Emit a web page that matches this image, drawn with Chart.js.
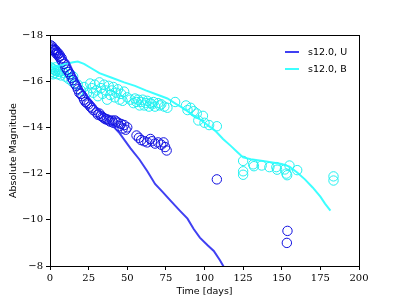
<!DOCTYPE html>
<html>
<head>
<meta charset="utf-8">
<script src="https://cdn.jsdelivr.net/npm/chart.js@4.4.7/dist/chart.umd.min.js"></script>
<style>
  html, body { margin: 0; padding: 0; background: #fff; }
  #wrap { position: relative; width: 399px; height: 299px; }
  .legend { position: absolute; left: 285px; top: 43px; font: 9.5px "DejaVu Sans", sans-serif; color: #000; }
  .legend div { height: 17px; display: flex; align-items: center; }
  .legend span.swatch { display: inline-block; width: 14px; height: 2px; margin-right: 9px; }
</style>
</head>
<body>
<div id="wrap">
  <canvas id="chart" width="399" height="299"></canvas>
  <div class="legend" id="legend"></div>
</div>
<script>
// model light curves (days, magnitude)
const modelU = [
  [0, -17.5], [4, -17.35], [8, -17.15], [12, -16.84], [16, -16.25], [20, -15.7],
  [26, -15.2], [32, -14.7], [38, -14.25], [45, -13.75], [52, -13.1], [58, -12.6],
  [63, -12.1], [68, -11.55], [73, -11.2], [78, -10.83], [84, -10.4], [89, -10.05],
  [93, -9.6], [97, -9.23], [102, -8.9], [106, -8.65], [110, -8.25], [113, -7.9]
];
const modelB = [
  [0, -16.6], [5, -16.65], [10, -16.75], [15, -16.82], [18, -16.85], [22, -16.75],
  [27, -16.55], [32, -16.35], [40, -16.15], [48, -15.95], [55, -15.8], [62, -15.6],
  [70, -15.4], [76, -15.25], [82, -15.0], [87, -14.8], [92, -14.55], [97, -14.35],
  [102, -14.1], [107, -13.85], [112, -13.5], [117, -13.2], [121, -12.95], [125, -12.7],
  [130, -12.62], [140, -12.52], [150, -12.42], [155, -12.3], [160, -12.05], [165, -11.75],
  [170, -11.4], [175, -11.0], [178, -10.7], [181.5, -10.4]
];

// observed photometry
const obsU = [
  [0.5, -17.55], [1, -17.45], [1.5, -17.5], [2, -17.35], [2.5, -17.4], [3, -17.3],
  [3.5, -17.35], [4, -17.2], [4.5, -17.25], [5, -17.15], [5.5, -17.2], [6, -17.05],
  [6.5, -17.1], [7, -16.95], [7.5, -17.0], [8, -16.85], [9, -16.75], [10, -16.6],
  [11, -16.5], [12, -16.4], [13, -16.3], [14, -16.15], [15, -16.05], [16, -15.9],
  [17, -15.8], [18, -15.65], [19, -15.5], [20, -15.45], [21, -15.35], [22, -15.2],
  [23, -15.1], [24, -15.05], [25, -15.0], [26, -14.9], [27, -14.85], [28, -14.75],
  [30, -14.65], [31, -14.55], [32, -14.6], [33, -14.5], [34, -14.45], [35, -14.4],
  [36, -14.35], [37, -14.35], [38, -14.3], [39, -14.25], [40, -14.3], [41, -14.2],
  [42, -14.3], [43, -14.25], [44, -14.2], [45, -14.05], [46, -14.15], [47, -13.95],
  [48, -14.1], [49, -13.9], [50, -14.0],
  [56, -13.65], [57.5, -13.55], [59, -13.45], [61, -13.4], [63, -13.35], [65, -13.5],
  [66, -13.4], [68, -13.3], [70, -13.35], [72, -13.25], [73.5, -13.35], [74.5, -13.15],
  [75.5, -13.0],
  [108, -11.75], [153.7, -9.52], [153.3, -9.0]
];
const obsB = [
  [0.5, -16.6], [1, -16.4], [1.5, -16.55], [2, -16.3], [2.5, -16.5], [3, -16.35],
  [3.5, -16.6], [4, -16.45], [5, -16.3], [5.5, -16.5], [6, -16.4], [7, -16.25],
  [8, -16.45], [9, -16.35], [10, -16.2], [11, -16.4], [12, -16.1], [13, -16.3],
  [14, -16.0], [15, -16.2], [16, -15.9], [18, -15.85], [20, -15.6], [22, -15.75],
  [24, -15.5], [26, -15.9], [27, -15.7], [28, -15.5], [29, -15.85], [30, -15.6],
  [31, -15.35], [32, -15.95], [33, -15.7], [34, -15.45], [35, -15.85], [36, -15.6],
  [37, -15.2], [38, -15.8], [39, -15.4], [40, -15.6], [41, -15.75], [42, -15.3],
  [43, -15.5], [44, -15.65], [45, -15.2], [46, -15.45], [47, -15.15], [48, -15.55],
  [50, -15.3], [52, -15.2], [54, -15.05], [55, -15.25], [56, -15.1], [57, -15.2],
  [58, -14.95], [59, -15.1], [60, -15.2], [61, -14.95], [62, -15.05], [63, -15.15],
  [64, -14.9], [65, -15.05], [66, -15.0], [67, -15.1], [68, -14.9], [70, -15.05],
  [71, -14.95], [72, -15.0], [74, -14.9], [76, -14.85], [81, -15.1], [88, -14.95],
  [89, -14.75], [91, -14.85], [93, -14.7], [95, -14.6], [96, -14.3], [99, -14.5],
  [100, -14.2], [103, -14.1], [108, -14.05],
  [125, -12.55], [125, -12.1], [125, -11.95], [131.5, -12.4], [132, -12.32], [137, -12.35],
  [142, -12.28], [146.5, -12.28], [147, -12.17], [152, -12.18], [153, -12.0], [153.5, -11.93],
  [155, -12.35], [160, -12.15], [183.5, -11.88], [183.5, -11.7]
];

const xTicks = [0, 25, 50, 75, 100, 125, 150, 175, 200];
const yTicks = [-18, -16, -14, -12, -10, -8];

const blueLine = 'rgba(30, 30, 240, 0.85)';
const cyanLine = 'rgba(40, 255, 255, 0.9)';
const blueDot = '#1010e0';
const cyanDot = '#20f0f0';

const toXY = arr => arr.map(([x, y]) => ({ x, y }));
const minus = v => (v < 0 ? '\u2212' + Math.abs(v) : String(v));

const framePlugin = {
  id: 'frame',
  afterDraw(chart) {
    const { ctx, chartArea: a } = chart;
    ctx.save();
    ctx.strokeStyle = '#000';
    ctx.lineWidth = 1;
    ctx.strokeRect(a.left + 0.5, a.top + 0.5, a.right - a.left, a.bottom - a.top);
    ctx.restore();
  }
};

const lineDatasets = [
  { label: 's12.0, U', data: toXY(modelU), borderColor: blueLine, type: 'line' },
  { label: 's12.0, B', data: toXY(modelB), borderColor: cyanLine, type: 'line' }
];

const chart = new Chart(document.getElementById('chart').getContext('2d'), {
  type: 'scatter',
  data: {
    datasets: [
      ...lineDatasets.map(d => ({
        ...d, borderWidth: 2, pointRadius: 0, fill: false, tension: 0, showLine: true
      })),
      { label: 'obs U', data: toXY(obsU), borderColor: blueDot, backgroundColor: 'transparent', pointRadius: 4.7, borderWidth: 1 },
      { label: 'obs B', data: toXY(obsB), borderColor: cyanDot, backgroundColor: 'transparent', pointRadius: 4.7, borderWidth: 1 }
    ]
  },
  options: {
    responsive: false,
    animation: false,
    clip: true,
    layout: { padding: { left: 0, right: 40, top: 35, bottom: 0 } },
    plugins: { legend: { display: false }, tooltip: { enabled: false } },
    scales: {
      x: {
        type: 'linear', min: 0, max: 200,
        afterBuildTicks: s => { s.ticks = xTicks.map(v => ({ value: v })); },
        afterFit: s => { s.height = 33; },
        grid: { drawOnChartArea: false, drawTicks: true, tickLength: 4, color: '#000' },
        border: { display: true, color: '#000', width: 1 },
        ticks: { color: '#000', padding: 2, maxRotation: 0, font: { family: 'DejaVu Serif', size: 10 } },
        title: { display: true, text: 'Time [days]', color: '#000', padding: { top: 0, bottom: 1.6 }, font: { family: 'DejaVu Sans', size: 9.5 } }
      },
      y: {
        type: 'linear', min: -18, max: -8, reverse: true,
        afterBuildTicks: s => { s.ticks = yTicks.map(v => ({ value: v })); },
        afterFit: s => { s.width = 50; },
        grid: { drawOnChartArea: false, drawTicks: true, tickLength: 4, color: '#000' },
        border: { display: true, color: '#000', width: 1 },
        ticks: { color: '#000', padding: 3, callback: v => minus(v), font: { family: 'DejaVu Serif', size: 10 } },
        title: { display: true, text: 'Absolute Magnitude', color: '#000', padding: { top: 7.6, bottom: 0 }, font: { family: 'DejaVu Sans', size: 9.5 } }
      }
    }
  },
  plugins: [framePlugin]
});

// legend built from the line datasets
const legendEl = document.getElementById('legend');
lineDatasets.forEach(d => {
  const row = document.createElement('div');
  const sw = document.createElement('span');
  sw.className = 'swatch';
  sw.style.background = d.borderColor;
  row.appendChild(sw);
  row.appendChild(document.createTextNode(d.label));
  legendEl.appendChild(row);
});
</script>
</body>
</html>
